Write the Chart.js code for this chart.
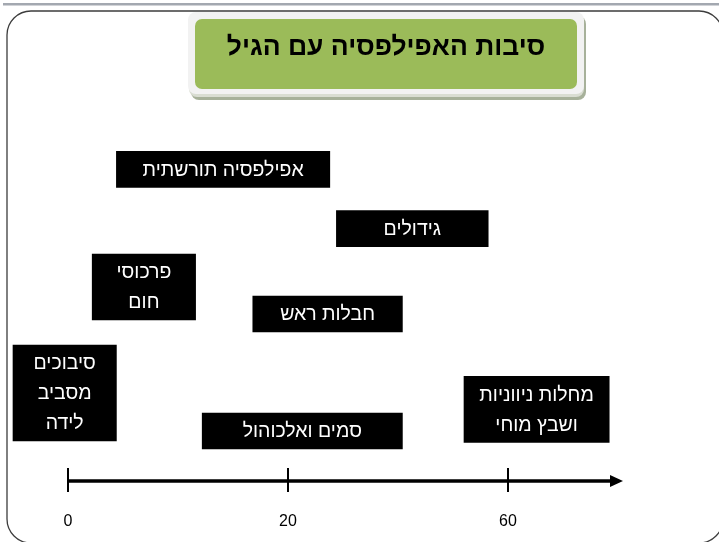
<!DOCTYPE html>
<html>
<head>
<meta charset="utf-8">
<script src="https://cdn.jsdelivr.net/npm/chart.js@4/dist/chart.umd.min.js"></script>
<style>
  html, body { margin: 0; padding: 0; background: #fff; }
  #wrap { width: 719px; height: 542px; }
</style>
</head>
<body>
<div id="wrap"><canvas id="ageChart"></canvas></div>
<script>
const titleText = 'סיבות האפילפסיה עם הגיל';
// causes of epilepsy, each spanning a range on the age axis
const causes = ['אפילפסיה תורשתית', 'גידולים', 'פרכוסי\nחום', 'חבלות ראש', 'סיבוכים\nמסביב\nלידה', 'סמים ואלכוהול', 'מחלות ניווניות\nושבץ מוחי'];
const fromPos = [0.22, 1.22, 0.11, 0.84, -0.25, 0.61, 1.80];
const toPos   = [1.19, 1.91, 0.58, 1.52, 0.22, 1.52, 2.46];
const rowPos  = [3.42, 6.38, 9.3, 10.65, 14.6, 16.5, 15.42];
const tickValues = [0, 1, 2];
const tickLabels = ['0', '20', '60'];

const FONT = '"Liberation Sans", Arial, "DejaVu Sans", sans-serif';

function rr(ctx, x, y, w, h, r) {
    ctx.beginPath();
    ctx.roundRect(x, y, w, h, r);
}

const slideDecor = {
    id: 'slideDecor',
    beforeDraw(chart) {
        const ctx = chart.ctx;
        ctx.save();
        ctx.fillStyle = '#fff';
        ctx.fillRect(0, 0, chart.width, chart.height);

        // top rule
        ctx.fillStyle = '#a3a8b0';
        ctx.fillRect(3, 3, chart.width, 2.5);

        // slide frame
        ctx.strokeStyle = '#3c3c3c';
        ctx.lineWidth = 1.3;
        rr(ctx, 7, 11, 716, 532, 24);
        ctx.stroke();

        // title box: shadow, frame, green panel
        ctx.fillStyle = '#a7b19a';
        rr(ctx, 191, 16, 395, 84, 8);
        ctx.fill();
        ctx.fillStyle = '#d9ddd2';
        rr(ctx, 189, 14, 395, 83, 8);
        ctx.fill();
        ctx.fillStyle = '#f2f2f2';
        rr(ctx, 188, 12, 396, 82, 8);
        ctx.fill();
        ctx.fillStyle = '#9bbb59';
        rr(ctx, 195, 19, 382, 70, 7);
        ctx.fill();

        ctx.fillStyle = '#000';
        ctx.font = 'bold 26.5px ' + FONT;
        ctx.textAlign = 'center';
        ctx.textBaseline = 'middle';
        ctx.direction = 'rtl';
        ctx.fillText(titleText, 386, 48);
        ctx.restore();
    },
    afterDatasetsDraw(chart) {
        const ctx = chart.ctx;
        ctx.save();
        ctx.fillStyle = '#fff';
        ctx.font = '19.5px ' + FONT;
        ctx.textAlign = 'center';
        ctx.textBaseline = 'middle';
        ctx.direction = 'rtl';
        causes.forEach((c, i) => {
            const bar = chart.getDatasetMeta(i).data[0];
            const lines = c.split('\n');
            const cx = (bar.x + bar.base) / 2;
            const y0 = bar.y - (lines.length - 1) * 30 / 2;
            lines.forEach((ln, k) => ctx.fillText(ln, cx, y0 + k * 30 + 1));
        });

        // age axis with arrow
        const xs = chart.scales.x;
        const ay = chart.chartArea.bottom;
        const x0 = xs.getPixelForValue(0);
        const xEnd = xs.getPixelForValue(2.5);
        ctx.strokeStyle = '#000';
        ctx.fillStyle = '#000';
        ctx.lineWidth = 3.5;
        ctx.beginPath();
        ctx.moveTo(x0, ay);
        ctx.lineTo(xEnd - 6, ay);
        ctx.stroke();
        ctx.beginPath();
        ctx.moveTo(xEnd - 8, ay - 6);
        ctx.lineTo(xEnd + 5, ay);
        ctx.lineTo(xEnd - 8, ay + 6);
        ctx.closePath();
        ctx.fill();
        ctx.lineWidth = 2;
        tickValues.forEach(v => {
            const px = Math.round(xs.getPixelForValue(v));
            ctx.beginPath();
            ctx.moveTo(px, ay - 13);
            ctx.lineTo(px, ay + 11);
            ctx.stroke();
        });
        ctx.restore();
    }
};

const ctx = document.getElementById('ageChart').getContext('2d');
const ageChart = new Chart(ctx, {
    type: 'bar',
    data: {
        datasets: causes.map((c, i) => ({
            label: c,
            data: [{ x: [fromPos[i], toPos[i]], y: rowPos[i] }],
            backgroundColor: '#000',
            borderWidth: 0,
            barThickness: 30 * c.split('\n').length + 6,
            grouped: false,
            clip: false
        }))
    },
    options: {
        indexAxis: 'y',
        responsive: true,
        maintainAspectRatio: false,
        animation: false,
        layout: { padding: { left: 68, right: 101, top: 101, bottom: 13 } },
        plugins: {
            legend: { display: false },
            tooltip: { enabled: false },
            title: { display: false }
        },
        scales: {
            x: {
                type: 'linear',
                min: 0,
                max: 2.5,
                afterBuildTicks: s => { s.ticks = tickValues.map(v => ({ value: v })); },
                afterFit: s => { s.height = 48; },
                ticks: {
                    callback: (v, i) => tickLabels[i],
                    color: '#000',
                    font: { family: FONT, size: 16 },
                    padding: 23,
                    maxRotation: 0,
                    autoSkip: false
                },
                grid: { display: false },
                border: { display: false }
            },
            y: {
                type: 'linear',
                min: 0,
                max: 19,
                reverse: true,
                offset: false,
                display: false
            }
        }
    },
    plugins: [slideDecor]
});
</script>
</body>
</html>
